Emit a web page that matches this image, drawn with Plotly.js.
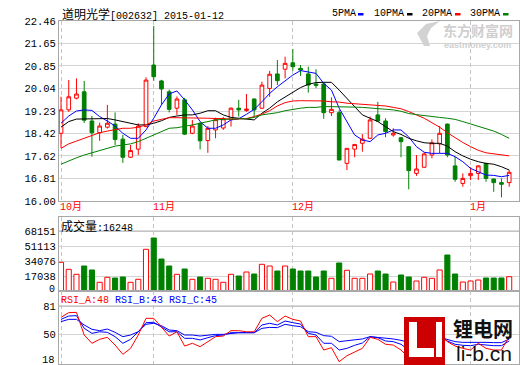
<!DOCTYPE html>
<html><head><meta charset="utf-8">
<script src="https://cdn.plot.ly/plotly-3.0.1.min.js"></script>
<style>html,body{margin:0;padding:0;background:#fff}#chart{width:520px;height:365px}</style>
</head><body><div id="chart"></div>
<script>
const stockName = '道明光学';
const stockCode = '002632';
const chartDate = '2015-01-12';
const monthTickIdx = [0, 12, 30, 53];
const monthLabels = ['10月', '11月', '12月', '1月'];

const openP  = [18.43,19.27,19.69,19.92,18.87,18.45,18.65,18.76,18.22,17.57,17.86,18.67,20.88,20.31,19.92,19.33,19.63,18.43,18.79,18.17,18.55,18.62,18.94,19.33,19.25,19.66,19.33,20.04,20.56,20.73,20.96,20.76,20.56,20.20,20.20,19.17,19.17,17.35,17.86,18.07,18.25,19.09,18.87,18.37,18.27,17.95,16.99,17.21,17.65,18.05,18.76,17.26,16.63,16.91,16.99,17.35,16.79,16.66,16.66];
const highP  = [19.74,20.34,20.40,20.31,19.05,18.81,19.45,19.18,18.37,18.01,18.79,20.44,22.28,20.35,20.00,19.75,19.70,18.91,18.82,18.69,18.99,19.02,19.36,19.63,19.84,19.68,20.28,20.67,21.06,21.18,21.45,20.88,20.82,20.73,20.25,19.72,19.27,17.89,18.03,18.40,19.03,19.56,18.97,18.61,18.30,17.97,17.65,17.75,18.21,18.69,18.78,17.59,16.99,17.21,17.28,17.37,16.80,16.81,17.11];
const lowP   = [17.90,19.20,19.65,18.80,17.59,18.16,18.60,18.01,17.37,17.55,17.65,18.65,20.32,19.45,19.18,19.09,18.37,18.40,17.85,17.73,18.25,18.55,18.67,19.03,19.20,19.03,19.30,19.74,20.16,20.40,20.68,20.49,19.89,20.05,18.95,19.05,17.47,17.11,17.57,17.77,18.22,18.85,18.29,18.31,17.57,16.42,16.90,17.20,17.53,17.71,17.57,16.69,16.51,16.75,16.75,16.69,16.33,16.13,16.51];
const closeP = [19.27,19.74,19.84,18.90,18.45,18.69,18.79,18.21,17.57,17.81,18.69,20.34,20.46,20.02,19.29,19.66,18.40,18.69,18.16,18.61,18.92,18.95,19.33,19.27,19.30,19.27,20.16,20.55,20.32,20.94,20.82,20.70,20.16,20.15,19.17,19.29,17.47,17.89,18.03,18.22,18.91,18.87,18.49,18.43,18.13,17.09,17.15,17.69,18.09,18.43,17.65,16.78,16.81,16.99,17.26,16.81,16.66,16.60,17.03];
const volume = [32600,24650,18970,28400,23860,9880,15560,14770,15900,9880,13290,47370,60210,36350,28400,18970,24990,13290,15900,14430,13290,9880,18970,17040,21580,19310,30330,28400,22720,28400,24990,22720,22720,15900,22720,14430,31810,23520,14430,14430,19310,22720,19310,10220,18180,15900,11360,15560,14430,23860,40900,19310,10220,11360,12500,14770,14770,14770,16248];

const ma5  = [18.79,19.05,19.23,19.27,19.25,19.03,18.87,18.69,18.43,18.25,18.25,18.55,18.97,19.45,19.84,19.95,19.63,19.27,18.85,18.61,18.61,18.73,18.91,18.95,19.11,19.29,19.56,19.86,20.10,20.30,20.52,20.68,20.64,20.58,20.22,19.98,19.33,18.85,18.37,18.19,18.13,18.37,18.43,18.55,18.55,18.30,17.95,17.75,17.71,17.71,17.71,17.59,17.41,17.17,17.05,16.93,16.92,16.87,16.92];
const ma10 = [18.65,18.85,18.94,18.94,18.94,18.96,18.96,18.91,18.85,18.79,18.73,18.73,18.79,18.88,19.00,19.05,19.09,19.09,19.15,19.24,19.24,19.09,19.00,18.97,18.94,18.91,19.15,19.33,19.56,19.74,19.92,20.07,20.19,20.25,20.26,20.26,19.98,19.69,19.39,19.09,18.97,18.85,18.67,18.49,18.39,18.25,18.16,18.09,18.07,18.07,17.97,17.77,17.62,17.50,17.41,17.35,17.32,17.23,17.11];
const ma20 = [17.89,18.05,18.15,18.25,18.37,18.45,18.51,18.57,18.61,18.61,18.65,18.73,18.87,18.93,18.99,18.99,18.99,18.99,18.99,18.97,18.96,18.96,18.93,18.94,18.96,19.03,19.12,19.24,19.41,19.53,19.59,19.60,19.60,19.59,19.59,19.56,19.55,19.51,19.49,19.47,19.47,19.45,19.41,19.36,19.31,19.21,19.09,18.97,18.81,18.65,18.45,18.27,18.10,17.95,17.82,17.73,17.70,17.65,17.62];
const ma30 = [17.32,17.45,17.55,17.65,17.73,17.81,17.89,17.97,18.01,18.05,18.13,18.25,18.39,18.49,18.61,18.63,18.67,18.73,18.79,18.85,18.91,18.93,18.95,18.95,18.95,19.00,19.09,19.13,19.17,19.24,19.29,19.33,19.36,19.36,19.39,19.39,19.39,19.39,19.37,19.36,19.34,19.33,19.30,19.27,19.22,19.14,19.10,19.06,19.03,19.00,18.97,18.93,18.85,18.76,18.67,18.59,18.51,18.39,18.25];

const rsiA = [68.7,73.8,74.1,49.5,40.5,44.8,47.0,38.6,28.5,35.0,49.5,67.6,67.6,58.5,48.4,53.0,37.5,40.5,36.8,42.2,47.7,48.4,54.2,54.2,53.0,53.0,67.6,71.2,64.0,70.1,66.5,64.7,47.7,47.7,33.2,35.7,20.5,27.0,31.4,35.0,47.0,44.8,39.4,38.6,33.2,24.9,27.8,35.0,44.1,53.0,42.2,37.5,35.0,33.2,40.5,35.0,33.2,33.2,48];
const rsiB = [66.5,70.1,70.5,56.8,51.3,53.0,52.4,47.7,40.5,44.8,53.0,62.9,63.3,58.5,53.0,53.0,45.9,45.9,44.1,46.6,48.8,49.5,52.0,52.0,52.0,52.0,60.4,62.2,60.4,64.7,62.9,61.4,51.3,49.5,40.5,40.5,33.2,35.0,38.3,40.8,47.7,46.6,43.0,42.3,39.4,33.2,34.3,36.8,42.3,47.7,43.0,39.4,38.3,37.9,39.4,38.3,37.9,37.9,43];
const rsiC = [64.0,66.5,66.5,60.4,55.7,54.2,56.0,52.4,47.7,49.5,53.1,61.1,62.2,59.6,54.9,54.2,49.5,49.5,48.4,49.5,50.2,50.2,51.3,52.0,52.0,52.0,56.7,57.8,57.5,61.1,59.6,58.6,53.1,52.4,48.8,48.1,42.3,43.0,43.7,45.2,47.7,47.0,45.9,45.2,43.7,41.5,41.5,42.3,43.7,47.0,44.5,42.3,41.5,41.5,42.3,41.5,41.2,41.2,45];

const priceTicks = [16.00,16.81,17.62,18.42,19.23,20.04,20.85,21.65,22.46];
const volTicks = [17038,34076,51113,68151];
const rsiTicks = [50,81];

const RED='#ff0000', GREEN='#008000', BLUE='#0000ff', BLACK='#000000';
const idx = openP.map((_, i) => i);
const isUp = closeP.map((c, i) => c >= openP[i]);

const PX = x => (x - 59) / 460;
const PY = y => (364 - y) / 343;
const MONO = 'Liberation Mono, Noto Sans CJK SC, monospace';
const CJK = 'font-family:Noto Sans CJK SC;font-size:12px';

const traces = [
  {type:'candlestick', x:idx, open:openP, high:highP, low:lowP, close:closeP, xaxis:'x', yaxis:'y',
   increasing:{line:{color:RED,width:1}, fillcolor:'#ffffff'},
   decreasing:{line:{color:GREEN,width:1}, fillcolor:GREEN},
   whiskerwidth:0, hoverinfo:'skip'},
  {type:'scatter', mode:'lines', x:idx, y:ma5,  line:{color:BLUE, width:1}, xaxis:'x', yaxis:'y', hoverinfo:'skip'},
  {type:'scatter', mode:'lines', x:idx, y:ma10, line:{color:BLACK, width:1}, xaxis:'x', yaxis:'y', hoverinfo:'skip'},
  {type:'scatter', mode:'lines', x:idx, y:ma20, line:{color:RED, width:1}, xaxis:'x', yaxis:'y', hoverinfo:'skip'},
  {type:'scatter', mode:'lines', x:idx, y:ma30, line:{color:GREEN, width:1}, xaxis:'x', yaxis:'y', hoverinfo:'skip'},
  {type:'bar', x:idx, y:volume, width:0.66, xaxis:'x2', yaxis:'y2', hoverinfo:'skip',
   marker:{color:isUp.map(u => u ? '#ffffff' : GREEN), line:{color:isUp.map(u => u ? RED : GREEN), width:1}}},
  {type:'scatter', mode:'lines', x:idx, y:rsiC, line:{color:BLUE, width:1}, xaxis:'x3', yaxis:'y3', hoverinfo:'skip'},
  {type:'scatter', mode:'lines', x:idx, y:rsiB, line:{color:BLUE, width:1}, xaxis:'x3', yaxis:'y3', hoverinfo:'skip'},
  {type:'scatter', mode:'lines', x:idx, y:rsiA, line:{color:RED, width:1}, xaxis:'x3', yaxis:'y3', hoverinfo:'skip'}
];

const frame = {showline:true, linecolor:'#a8a8a8', linewidth:1, mirror:true, zeroline:false, ticks:'', fixedrange:true};
const xBase = Object.assign({}, frame, {range:[-0.26, 59.27], tickmode:'array', tickvals:monthTickIdx, ticktext:monthLabels,
  showticklabels:false, showgrid:true, gridcolor:'#c4c4c4', griddash:'4px,3px', gridwidth:1});
const yFont = {family:MONO, size:10.5, color:'#000'};

const annotations = [];
annotations.push({xref:'paper', yref:'paper', x:PX(60), y:PY(14), xanchor:'left', yanchor:'middle', showarrow:false,
  font:{family:MONO, size:10, color:'#000'},
  text:'<span style="'+CJK+'">'+stockName+'</span>['+stockCode+'] '+chartDate});
const legendItems = [['5PMA',BLUE,330,358],['10PMA',BLACK,372,407],['20PMA',RED,420,455],['30PMA',GREEN,468,503]];
const shapes = [];
legendItems.forEach(([t,c,tx,bx]) => {
  annotations.push({xref:'paper', yref:'paper', x:PX(tx), y:PY(14), xanchor:'left', yanchor:'middle', showarrow:false,
    font:{family:MONO, size:10, color:'#000'}, text:t});
  shapes.push({type:'rect', xref:'paper', yref:'paper', x0:PX(bx), x1:PX(bx+5.5), y0:PY(15.5), y1:PY(13), fillcolor:c, line:{width:0}});
});
monthTickIdx.forEach((m, k) => {
  annotations.push({xref:'x', yref:'paper', x:m, y:PY(207), xanchor:'left', yanchor:'middle', xshift:-3, showarrow:false,
    font:{family:MONO, size:10, color:RED}, text:monthLabels[k]});
});
annotations.push({xref:'paper', yref:'paper', x:PX(59), y:PY(225), xanchor:'left', yanchor:'middle', showarrow:false,
  font:{family:MONO, size:10, color:'#000'},
  text:'<span style="'+CJK+'">成交量</span>:'+volume[volume.length-1]});
annotations.push({xref:'paper', yref:'paper', x:PX(59), y:PY(300), xanchor:'left', yanchor:'middle', showarrow:false,
  font:{family:MONO, size:10, color:BLUE},
  text:'<span style="color:#ff0000">RSI_A:'+Math.round(rsiA[rsiA.length-1])+'</span> RSI_B:'+Math.round(rsiB[rsiB.length-1])+' RSI_C:'+Math.round(rsiC[rsiC.length-1])});
annotations.push({xref:'paper', yref:'y2', x:0, y:0, xanchor:'right', yanchor:'middle', xshift:-2, yshift:2, showarrow:false, font:{family:MONO, size:10, color:'#000'}, text:'0'});
annotations.push({xref:'paper', yref:'y3', x:0, y:18, xanchor:'right', yanchor:'middle', xshift:-2, yshift:4, showarrow:false, font:yFont, text:'18'});

shapes.push({type:'line', xref:'paper', yref:'y2', x0:0, x1:1, y0:68151, y1:68151, line:{color:'#b4b4b4', width:1}});
shapes.push({type:'line', xref:'paper', yref:'y3', x0:0, x1:1, y0:81, y1:81, line:{color:'#b4b4b4', width:1}});

annotations.push({xref:'paper', yref:'paper', x:PX(441), y:PY(30), xanchor:'left', yanchor:'middle', showarrow:false,
  font:{family:'Noto Sans CJK SC', size:14, color:'#cfcfcf', weight:700}, text:'东方财富网'});
annotations.push({xref:'paper', yref:'paper', x:PX(442), y:PY(45), xanchor:'left', yanchor:'middle', showarrow:false,
  font:{family:'Liberation Sans', size:9, color:'#cfcfcf', weight:700}, text:'eastmoney.com'});
const swoosh = [[424,46],[417,33],[426,24],[440,21],[431,28],[427,36],[430,46]];
shapes.push({type:'path', xref:'paper', yref:'paper', fillcolor:'#d2d2d2', line:{width:0},
  path:'M'+swoosh.map(p => PX(p[0])+','+PY(p[1])).join(' L')+' Z'});

shapes.push({type:'rect', xref:'paper', yref:'paper', x0:PX(404), x1:PX(445), y0:PY(366), y1:PY(317), fillcolor:'#cc0000', line:{width:0}});
shapes.push({type:'rect', xref:'paper', yref:'paper', x0:PX(409), x1:PX(417), y0:PY(357), y1:PY(322), fillcolor:'#ffffff', line:{width:0}});
shapes.push({type:'rect', xref:'paper', yref:'paper', x0:PX(409), x1:PX(434), y0:PY(357), y1:PY(348), fillcolor:'#ffffff', line:{width:0}});
shapes.push({type:'rect', xref:'paper', yref:'paper', x0:PX(436), x1:PX(442), y0:PY(357), y1:PY(322), fillcolor:'#ffffff', line:{width:0}});
annotations.push({xref:'paper', yref:'paper', x:PX(451), y:PY(328), xanchor:'left', yanchor:'middle', showarrow:false,
  font:{family:'Noto Sans CJK SC', size:20, color:'#111', weight:700}, text:'锂电网'});
annotations.push({xref:'paper', yref:'paper', x:PX(454), y:PY(353), xanchor:'left', yanchor:'middle', showarrow:false,
  font:{family:'Liberation Sans', size:21, color:'#111'}, text:'li-b.cn'});

const layout = {
  width:520, height:365, margin:{l:59, r:1, t:21, b:1, pad:0},
  paper_bgcolor:'#ffffff', plot_bgcolor:'#ffffff', showlegend:false, boxgap:0.32,
  xaxis: Object.assign({}, xBase, {anchor:'y', rangeslider:{visible:false}}),
  xaxis2: Object.assign({}, xBase, {anchor:'y2'}),
  xaxis3: Object.assign({}, xBase, {anchor:'y3'}),
  yaxis: Object.assign({}, frame, {domain:[PY(201), 1], range:[16, 22.46], tickmode:'array', tickvals:priceTicks,
    ticktext:priceTicks.map(v => v.toFixed(2)), gridcolor:'#d4d4d4', tickfont:yFont}),
  yaxis2: Object.assign({}, frame, {domain:[PY(291), PY(217)], range:[0, 84053], tickmode:'array', tickvals:volTicks,
    ticktext:volTicks.map(String), gridcolor:'#d4d4d4', tickfont:yFont}),
  yaxis3: Object.assign({}, frame, {domain:[0, PY(291)], range:[18, 97.3], tickmode:'array', tickvals:rsiTicks,
    ticktext:rsiTicks.map(String), gridcolor:'#d4d4d4', tickfont:yFont}),
  annotations: annotations, shapes: shapes
};
Plotly.newPlot('chart', traces, layout, {staticPlot:true, displayModeBar:false});
</script></body></html>
